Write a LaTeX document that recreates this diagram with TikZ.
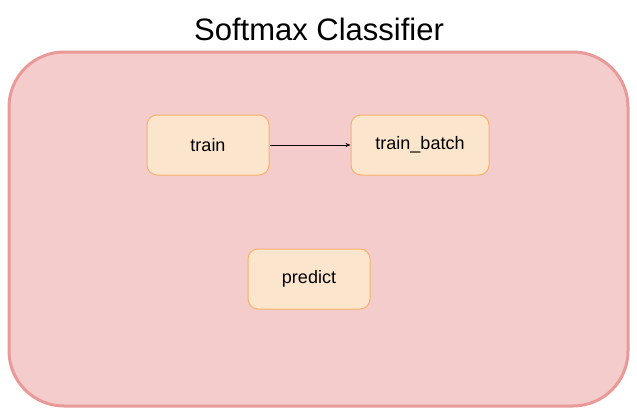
\documentclass[tikz,border=0pt]{standalone}
\usepackage{fontspec}
\setmainfont{Liberation Sans}
\usetikzlibrary{arrows.meta}
\definecolor{classfill}{HTML}{F4CCCC}
\definecolor{classline}{HTML}{EA9999}
\definecolor{funcfill}{HTML}{FCE5CD}
\definecolor{funcline}{HTML}{F6B26B}
\begin{document}
\begin{tikzpicture}[x=1pt,y=-1pt,
  func/.style={draw=funcline, fill=funcfill, line width=1pt, rounded corners=10pt,
    minimum width=122pt, minimum height=60pt, inner sep=0pt,
    font=\fontsize{18}{21}\selectfont},
  flow/.style={-{Stealth[length=5pt,width=4pt]}, line width=0.8pt}]
  \useasboundingbox (0,0) rectangle (637,413);
  \draw[draw=classline, fill=classfill, line width=3pt, rounded corners=55pt]
    (9,52) rectangle (628,406);
  \node (title) at (319,29) {\fontsize{31}{36}\selectfont Softmax Classifier};
  \node[func] (train) at (208,145) {train};
  \node[func, minimum width=138pt] (batch) at (420,145) {train\_batch};
  \node[func] (predict) at (309,279) {predict};
  \draw[flow] (train) -- (batch);
\end{tikzpicture}
\end{document}
